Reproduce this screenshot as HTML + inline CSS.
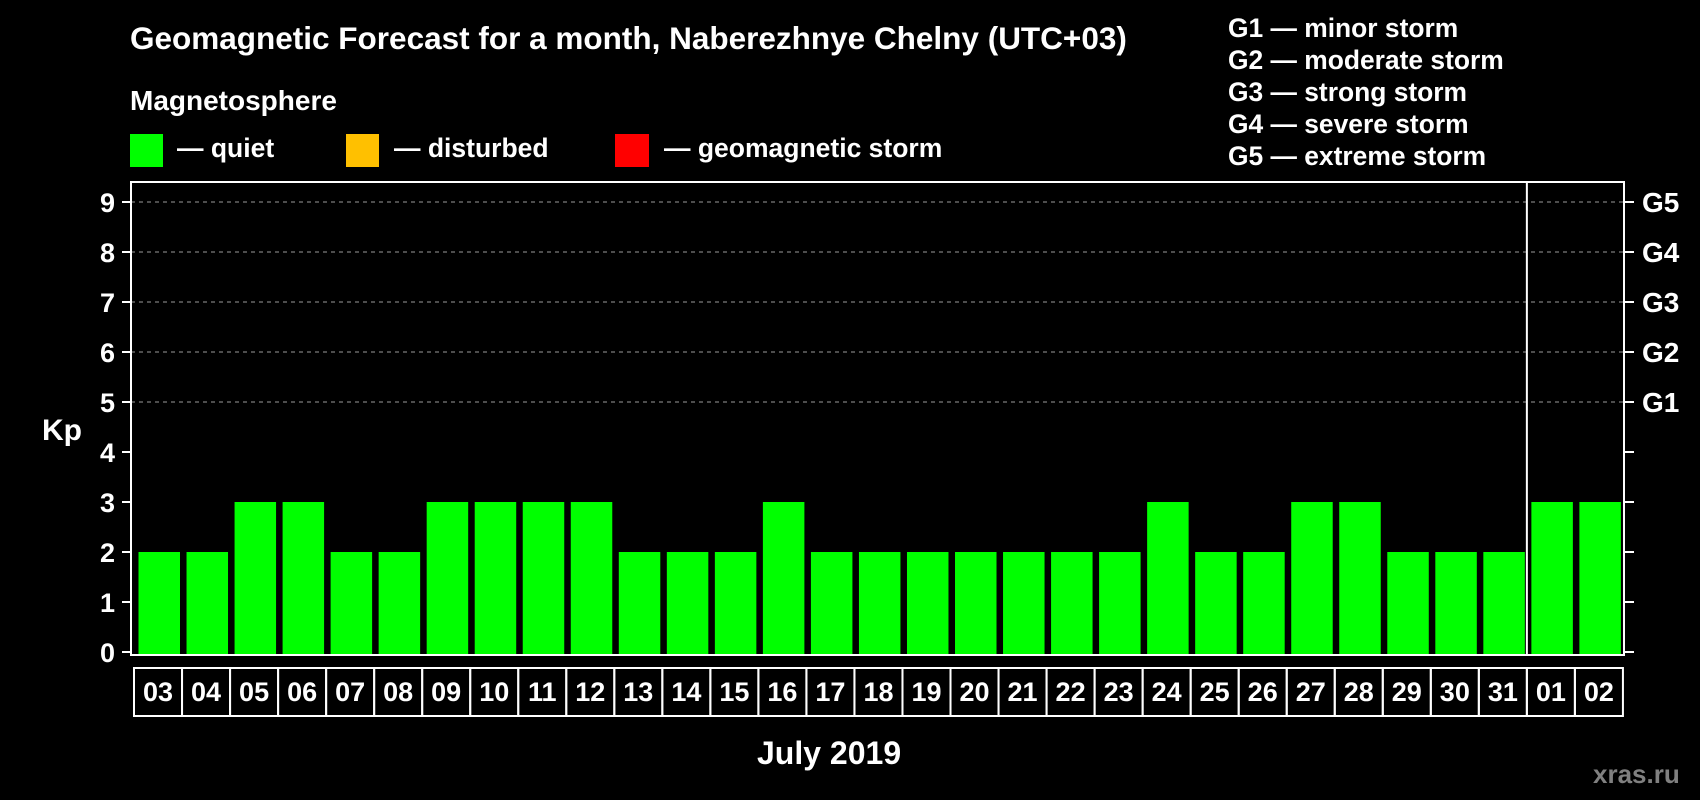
<!DOCTYPE html>
<html><head><meta charset="utf-8"><style>
html,body{margin:0;padding:0;background:#000;}
svg{display:block;font-family:"Liberation Sans",Arial,sans-serif;font-weight:bold;}
</style></head><body>
<svg id="chart" width="1700" height="800" viewBox="0 0 1700 800" xmlns="http://www.w3.org/2000/svg">
<rect x="0" y="0" width="1700" height="800" fill="#000"/>
<text x="130" y="49" fill="#fff" font-size="31.5">Geomagnetic Forecast for a month, Naberezhnye Chelny (UTC+03)</text>
<text x="130" y="110" fill="#fff" font-size="28">Magnetosphere</text>
<g><rect x="130" y="134" width="33" height="33" fill="#00ff00"/><text x="177" y="157" fill="#fff" font-size="26.5">— quiet</text></g>
<g><rect x="346" y="134" width="33" height="33" fill="#ffc000"/><text x="394" y="157" fill="#fff" font-size="26.5">— disturbed</text></g>
<g><rect x="615" y="134" width="34" height="33" fill="#ff0000"/><text x="664" y="157" fill="#fff" font-size="26.5">— geomagnetic storm</text></g>
<g fill="#fff" font-size="26.4">
<text x="1228" y="37">G1 — minor storm</text>
<text x="1228" y="69">G2 — moderate storm</text>
<text x="1228" y="101">G3 — strong storm</text>
<text x="1228" y="133">G4 — severe storm</text>
<text x="1228" y="165">G5 — extreme storm</text>
</g>
<text x="42" y="440" fill="#fff" font-size="30">Kp</text>
<text x="757" y="764" fill="#fff" font-size="32">July 2019</text>
<text x="1593" y="783" fill="#808080" font-size="26">xras.ru</text>
<g id="grid"></g>
<g id="bars"></g>
<g id="axes"></g>
<g id="dates"></g>
</svg>
<script>
const days = ["03","04","05","06","07","08","09","10","11","12","13","14","15","16","17","18","19","20","21","22","23","24","25","26","27","28","29","30","31","01","02"];
const kpValues = [2,2,3,3,2,2,3,3,3,3,2,2,2,3,2,2,2,2,2,2,2,3,2,2,3,3,2,2,2,3,3];
const yTicks = [0,1,2,3,4,5,6,7,8,9];
const gLabels = ["G1","G2","G3","G4","G5"];
const gLevels = [5,6,7,8,9];
const monthBreakIndex = 29;

const NS = "http://www.w3.org/2000/svg";
const frameL = 131, frameR = 1624, frameT = 182, frameB = 655;
const cellX0 = 134, cellW = 48.03;
function y(v){ return 652 - v * 50; }
function xCell(i){ return cellX0 + i * cellW; }
function mk(tag, attrs, parent){ const e = document.createElementNS(NS, tag); for (const k in attrs) e.setAttribute(k, attrs[k]); parent.appendChild(e); return e; }

const grid = document.getElementById('grid');
gLevels.forEach(v => {
  const l = mk('line', {x1: frameL, x2: frameR, y1: y(v), y2: y(v), stroke: '#9a9a9a', 'stroke-width': 1, 'stroke-dasharray': '4,4'}, grid);
  
  
});

const bars = document.getElementById('bars');
kpValues.forEach((v, i) => {
  const color = v >= 5 ? '#ff0000' : (v >= 4 ? '#ffc000' : '#00ff00');
  const r = mk('rect', {x: xCell(i) + 4.5, y: y(v), width: 41.5, height: frameB - y(v), fill: color}, bars);
  
  
});

const axes = document.getElementById('axes');
const frame = mk('rect', {x: frameL, y: frameT, width: frameR - frameL, height: frameB - frameT, fill: 'none', stroke: '#fff', 'stroke-width': 2}, axes);


const sep = mk('line', {x1: xCell(monthBreakIndex), x2: xCell(monthBreakIndex), y1: frameT, y2: frameB, stroke: '#fff', 'stroke-width': 2}, axes);


yTicks.forEach(v => {
  mk('line', {x1: 122, x2: frameL, y1: y(v), y2: y(v), stroke: '#fff', 'stroke-width': 2}, axes);
  mk('line', {x1: frameR, x2: 1634, y1: y(v), y2: y(v), stroke: '#fff', 'stroke-width': 2}, axes);
  const t = mk('text', {x: 115, y: y(v) + 10, fill: '#fff', 'font-size': 27, 'text-anchor': 'end'}, axes);
  t.textContent = String(v);
  
  
});
gLabels.forEach((g, i) => {
  const t = mk('text', {x: 1642, y: y(gLevels[i]) + 10, fill: '#fff', 'font-size': 28}, axes);
  t.textContent = g;
  
  
});

const dates = document.getElementById('dates');
days.forEach((d, i) => {
  const r = mk('rect', {x: xCell(i), y: 668, width: cellW, height: 48, fill: 'none', stroke: '#fff', 'stroke-width': 2}, dates);
  
  
  const t = mk('text', {x: xCell(i) + cellW / 2, y: 701, fill: '#fff', 'font-size': 27, 'text-anchor': 'middle'}, dates);
  t.textContent = d;
  
  
});
</script>
</body></html>
